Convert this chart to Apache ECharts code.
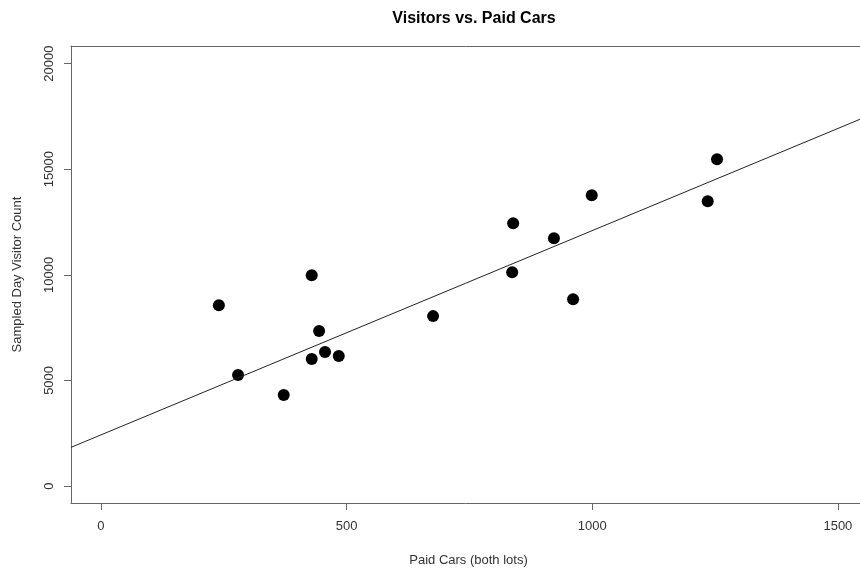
<!DOCTYPE html>
<html><head><meta charset="utf-8">
<script src="https://cdn.jsdelivr.net/npm/echarts@6/dist/echarts.min.js"></script>
<style>html,body{margin:0;padding:0;background:#fff}#c{width:860px;height:573px}</style>
</head><body><div id="c"></div>
<script>
const paidCars = [240, 279, 372, 429, 429, 444, 456, 484, 676, 839, 837, 922, 961, 999, 1235, 1254];
const visitors = [8564, 5252, 4306, 9983, 6009, 7334, 6340, 6151, 8044, 12444, 10125, 11734, 8848, 13769, 13485, 15472];
const fitX = [-61, 1545];
const fitY = [1831, 17364];
const xTicks = [0, 500, 1000, 1500];
const yTicks = [0, 5000, 10000, 15000, 20000];

const pts = paidCars.map((x, i) => [x, visitors[i]]);
const fit = fitX.map((x, i) => [x, fitY[i]]);
const font = 'Liberation Sans, Arial, sans-serif';
const plain = v => String(v);
const chart = echarts.init(document.getElementById('c'), null, {renderer: 'canvas'});
chart.setOption({
  animation: false,
  title: {text: 'Visitors vs. Paid Cars', left: 469, textAlign: 'center', top: 6,
    textStyle: {fontFamily: font, fontWeight: 'bold', fontSize: 16, color: '#000'}},
  grid: {left: 71, top: 46, right: 0, bottom: 70, containLabel: false, outerBoundsMode: 'none'},
  xAxis: [{
    type: 'value', min: -61, max: 1545, position: 'bottom',
    name: 'Paid Cars (both lots)', nameLocation: 'middle', nameGap: 51,
    nameTextStyle: {fontFamily: font, fontSize: 13, color: '#333', padding: [0, 0, 0, 6]},
    axisLine: {show: true, onZero: false, lineStyle: {color: '#666', width: 1}},
    axisTick: {show: true, length: 7, customValues: xTicks, lineStyle: {color: '#666'}},
    axisLabel: {customValues: xTicks, formatter: plain, margin: 17, fontFamily: font, fontSize: 13, color: '#333'},
    splitLine: {show: false}
  }, {
    type: 'value', min: -61, max: 1545, position: 'top',
    axisLine: {show: true, onZero: false, lineStyle: {color: '#666', width: 1}},
    axisTick: {show: false}, axisLabel: {show: false}, splitLine: {show: false}
  }],
  yAxis: {
    type: 'value', min: -804, max: 20833,
    name: 'Sampled Day Visitor Count', nameLocation: 'middle', nameGap: 47,
    nameTextStyle: {fontFamily: font, fontSize: 13, color: '#333'},
    axisLine: {show: true, onZero: false, lineStyle: {color: '#666', width: 1}},
    axisTick: {show: true, length: 7, customValues: yTicks, lineStyle: {color: '#666'}},
    axisLabel: {customValues: yTicks, formatter: plain, rotate: 90, margin: 15, fontFamily: font, fontSize: 13, color: '#333'},
    splitLine: {show: false}
  },
  series: [{
    type: 'line', data: fit, xAxisIndex: 0, symbol: 'none',
    lineStyle: {color: '#222', width: 1}, silent: true
  }, {
    type: 'scatter', data: pts, xAxisIndex: 0, symbolSize: 12,
    itemStyle: {color: '#000', opacity: 1}
  }]
});
</script></body></html>
